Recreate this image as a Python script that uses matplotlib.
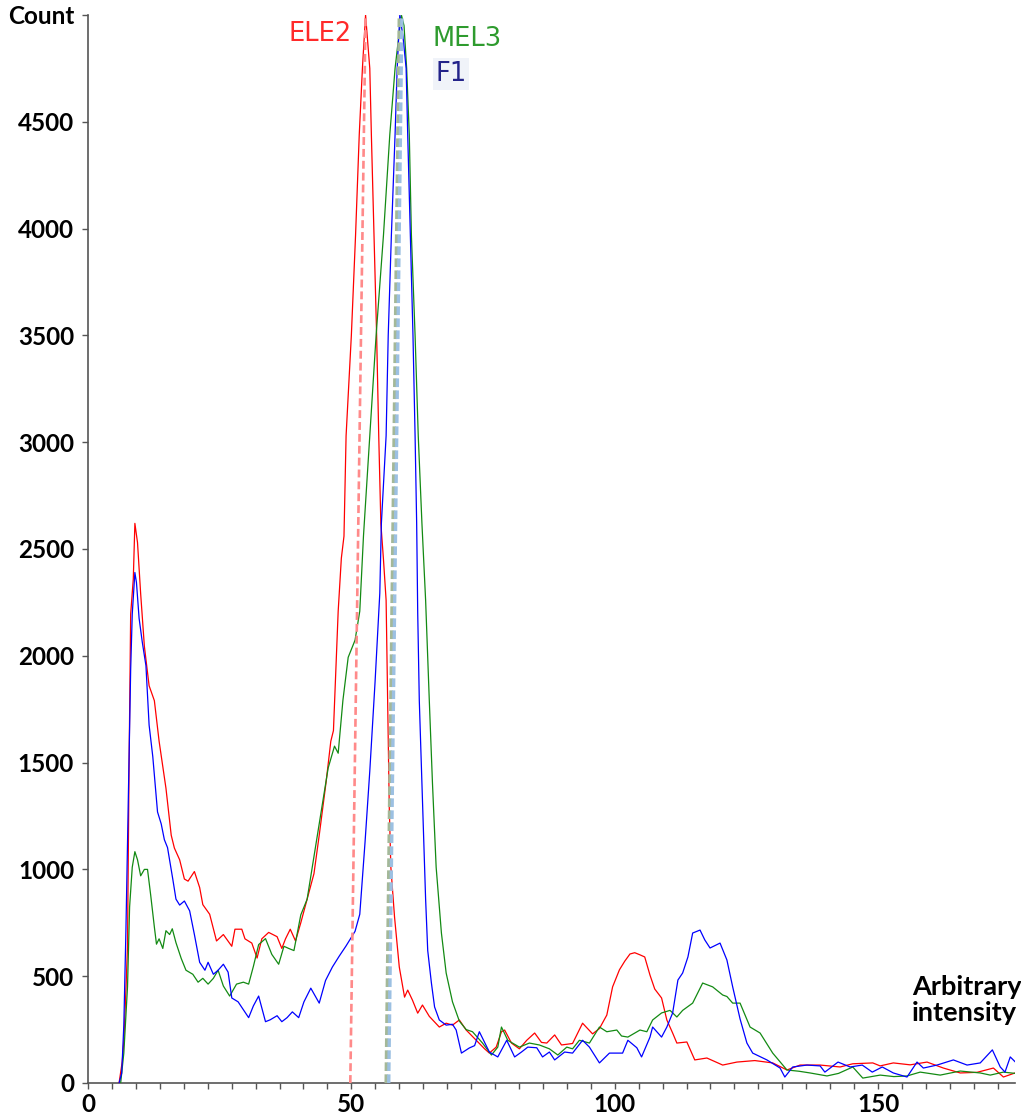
import numpy as np
import matplotlib
matplotlib.use("Agg")
import matplotlib.pyplot as plt

# ---------------------------------------------------------------------------
# Data (x = arbitrary intensity, y = count)
# ---------------------------------------------------------------------------

ele2_x = [5.9, 6.5, 6.8, 7.2, 7.5, 7.8, 8.1, 8.6, 8.9, 9.4, 10.0, 10.7, 11.6, 12.6, 13.5,
          14.8, 15.8, 16.4, 17.4, 18.3, 19.0, 20.2, 21.2, 21.8, 23.1, 24.4, 25.7, 27.3,
          27.9, 29.2, 29.8, 31.1, 32.1, 33.0, 34.3, 35.9, 36.8, 37.5, 38.4, 39.4, 40.4,
          41.6, 42.9, 43.9, 45.2, 46.1, 46.6, 47.5, 48.1, 48.6, 49.0, 50.0, 50.8, 51.5,
          52.1, 52.7, 53.5, 53.8, 54.3, 54.8, 55.2, 55.6, 56.1, 56.6, 56.9, 57.2, 57.5,
          58.2, 59.1, 60.1, 60.7, 61.6, 62.6, 63.5, 64.8, 66.7, 68.0, 69.2, 70.5, 71.8,
          73.7, 75.3, 76.2, 77.5, 78.5, 79.1, 80.4, 81.9, 83.3, 84.8, 86.1, 87.1, 88.6,
          89.9, 92.0, 93.9, 95.8, 97.1, 98.5, 99.6, 100.9, 101.9, 102.9, 103.8, 104.8,
          105.7, 106.7, 107.6, 108.9, 109.9, 111.0, 111.8, 113.7, 115.2, 117.5, 120.5,
          123.2, 126.6, 130.0, 132.7, 135.2, 139.0, 142.8, 145.2, 149.0, 150.4, 152.9,
          156.1, 159.3, 162.4, 165.6, 168.8, 171.9, 173.8, 176.0]
ele2_y = [0, 100, 194, 435, 640, 1490, 2195, 2360, 2620, 2530, 2290, 2045, 1860, 1790, 1600,
          1380, 1160, 1100, 1045, 955, 945, 990, 915, 835, 790, 665, 695, 640,
          720, 720, 675, 655, 585, 675, 705, 685, 630, 675, 720, 665, 750,
          860, 980, 1160, 1408, 1600, 1650, 2209, 2457, 2560, 3030, 3500, 3970, 4440,
          4750, 5000, 4750, 4440, 3970, 3500, 3030, 2620, 2450, 2260, 1790, 1290, 1010,
          777, 543, 402, 435, 388, 327, 365, 312, 262, 280, 271, 295, 248,
          200, 160, 140, 168, 240, 248, 187, 160, 200, 234, 190, 187, 225,
          178, 185, 280, 230, 255, 318, 450, 530, 570, 604, 610, 600,
          590, 505, 440, 398, 295, 234, 187, 192, 108, 117, 84,
          98, 105, 94, 61, 84, 84, 75, 90, 94, 80, 94,
          85, 98, 70, 47, 50, 70, 28, 47]

mel3_x = [6.2, 6.8, 7.5, 7.9, 8.4, 8.9, 9.4, 10.0, 10.7, 11.3, 11.9, 12.6, 13.0, 13.5, 14.2,
          14.8, 15.5, 16.0, 16.7, 17.7, 18.6, 19.9, 20.9, 21.8, 22.8, 23.8, 24.7, 25.7,
          26.9, 28.2, 29.5, 30.5, 31.4, 32.4, 33.7, 34.9, 36.2, 37.2, 38.1, 39.1, 40.4,
          41.6, 43.0, 44.3, 45.6, 46.8, 47.5, 48.4, 49.4, 50.7, 51.6, 52.3, 53.5, 54.7,
          56.1, 57.3, 58.3, 59.0, 59.5, 60.0, 60.5, 61.0, 61.4, 62.1, 62.7, 63.4, 64.1,
          64.8, 65.4, 66.1, 67.1, 68.0, 69.2, 70.5, 71.8, 73.0, 74.9, 76.6, 77.8, 78.5,
          79.7, 81.9, 83.8, 85.7, 87.6, 89.2, 90.9, 92.0, 93.3, 95.2, 97.1, 98.5, 100.4,
          101.3, 102.5, 104.8, 106.1, 107.2, 108.9, 110.5, 111.8, 112.9, 114.8, 116.7,
          118.6, 120.5, 121.3, 122.4, 123.8, 125.7, 127.6, 130.0, 132.7, 135.0, 137.1,
          140.3, 142.5, 145.2, 147.1, 150.4, 153.0, 155.5, 158.0, 161.8, 165.6, 169.4,
          171.3, 173.8, 176.0]
mel3_y = [0, 140, 450, 825, 1010, 1083, 1045, 970, 1000, 1000, 880, 730, 650, 675, 630,
          713, 695, 722, 657, 583, 528, 509, 472, 490, 463, 490, 528, 454,
          407, 463, 472, 463, 546, 648, 676, 602, 556, 640, 630, 620, 787,
          860, 1076, 1278, 1475, 1577, 1544, 1792, 1993, 2073, 2209, 2560, 3030, 3500,
          3970, 4440, 4750, 4900, 5000, 4950, 4750, 4440, 3970, 3500, 3030, 2620, 2260,
          1790, 1404, 1010, 702, 515, 380, 290, 250, 240, 187, 131, 168, 262,
          200, 168, 187, 178, 160, 131, 168, 160, 200, 187, 262, 240, 248,
          220, 215, 248, 240, 295, 328, 340, 309, 340, 374, 468,
          450, 412, 405, 374, 374, 262, 234, 140, 61, 55, 47,
          33, 45, 75, 23, 37, 30, 33, 51, 37, 56, 47,
          37, 51, 45]

f1_x = [5.9, 6.4, 6.8, 7.2, 7.5, 7.8, 8.1, 8.4, 8.9, 9.2, 9.7, 10.3, 11.0, 11.6, 12.3,
        13.2, 13.9, 14.5, 15.1, 16.1, 16.7, 17.4, 18.3, 19.3, 20.2, 21.2, 22.2, 22.8,
        23.8, 24.7, 25.7, 26.6, 27.3, 28.5, 29.5, 30.5, 31.4, 32.4, 33.7, 34.6, 35.9,
        36.8, 37.8, 38.8, 40.0, 41.0, 42.3, 43.9, 45.1, 46.4, 47.7, 49.0, 50.7, 51.6,
        52.6, 53.5, 54.5, 55.4, 55.7, 56.6, 57.0, 57.6, 58.3, 58.7, 59.2, 59.8, 60.4,
        60.7, 61.2, 61.7, 62.1, 62.4, 62.6, 62.9, 63.5, 64.1, 64.5, 65.2, 65.8, 66.7,
        68.0, 69.2, 69.9, 70.9, 72.4, 73.4, 74.3, 76.2, 77.8, 79.5, 81.0, 82.3, 83.5,
        85.2, 86.3, 87.6, 88.6, 90.5, 92.0, 93.9, 95.2, 97.1, 99.0, 100.4, 101.5, 102.5,
        104.2, 105.1, 106.7, 107.2, 108.9, 109.9, 111.0, 112.0, 112.9, 113.9, 114.8,
        116.2, 117.1, 118.1, 120.0, 121.3, 122.4, 123.8, 125.1, 126.2, 128.9, 131.4,
        132.3, 133.8, 136.5, 139.0, 139.9, 142.4, 144.7, 147.0, 148.9, 150.8, 152.9,
        155.5, 157.4, 158.6, 161.2, 164.3, 166.9, 169.4, 171.7, 173.2, 174.1, 175.1, 176.0]
f1_y = [0, 46, 270, 713, 1120, 1546, 1935, 2195, 2390, 2343, 2176, 2065, 1954, 1676, 1528,
        1269, 1213, 1139, 1102, 954, 861, 833, 852, 806, 695, 565, 528, 565,
        509, 528, 556, 519, 398, 380, 343, 306, 361, 407, 287, 296, 315,
        287, 306, 333, 306, 380, 444, 374, 480, 543, 594, 642, 710, 790,
        1128, 1460, 1877, 2293, 2620, 3030, 3500, 3970, 4440, 4750, 5000, 4900, 4750,
        4440, 3970, 3500, 3030, 2620, 2200, 1790, 1320, 860, 620, 468, 356, 295,
        271, 275, 248, 140, 164, 175, 240, 145, 122, 200, 122, 145, 168,
        165, 122, 145, 108, 145, 140, 200, 168, 94, 140, 140, 140, 200,
        165, 122, 215, 262, 215, 262, 328, 482, 515, 590, 702,
        716, 670, 632, 655, 576, 450, 300, 187, 140, 108, 70,
        28, 75, 84, 80, 51, 98, 75, 84, 51, 75, 47,
        28, 98, 70, 84, 108, 84, 94, 155, 75, 51, 122, 100]

# dashed peak markers: (x at count 0, x at top of axis)
ele2_mark_x = [49.8, 52.7]
mel3_mark_x = [56.6, 59.1]
f1_mark_x = [57.1, 59.6]
mark_y = [0, 5000]

y_ticks = np.arange(0, 5001, 500)
y_tick_labels = [str(v) for v in y_ticks[:-1]] + ["Count"]
x_tick_step = 50 / 11          # 11 small ticks between labelled values
x_label_every = 11

# ---------------------------------------------------------------------------
# Figure
# ---------------------------------------------------------------------------
W, H = 1021, 1117
fig = plt.figure(figsize=(W / 100, H / 100), dpi=100)
ax = fig.add_axes([88 / W, 34 / H, (1015 - 88) / W, (1083 - 15) / H])

ax.plot(ele2_x, ele2_y, color="#ff0000", lw=0.9, zorder=3)
ax.plot(mel3_x, mel3_y, color="#138a13", lw=0.9, zorder=3)
ax.plot(f1_x, f1_y, color="#0000ff", lw=0.9, zorder=4)

ax.plot(ele2_mark_x, mark_y, color="#ff8a8a", lw=1.9, dashes=(3, 1.5), zorder=5)
ax.plot(mel3_mark_x, mark_y, color="#a4b898", lw=2.4, dashes=(2.6, 1.0), zorder=5)
ax.plot(f1_mark_x, mark_y, color="#9cc0e2", lw=2.4, dashes=(2.6, 1.0), zorder=5)

ax.set_xlim(0, 176)
ax.set_ylim(0, 5000)

for s in ["top", "right"]:
    ax.spines[s].set_visible(False)
for s in ["left", "bottom"]:
    ax.spines[s].set_color("#555555")
    ax.spines[s].set_linewidth(1.2)

label_font = dict(family=["Lato", "DejaVu Sans"], fontweight="bold", fontsize=17.5)

ax.set_yticks(y_ticks)
ax.set_yticklabels(y_tick_labels, **label_font)
x_ticks = np.arange(0, 176.01, x_tick_step)
x_labels = [str(int(round(v))) if i % x_label_every == 0 else "" for i, v in enumerate(x_ticks)]
ax.set_xticks(x_ticks)
ax.set_xticklabels(x_labels, **label_font)
ax.tick_params(axis="y", direction="out", length=4, width=1, color="#555555", pad=6)
ax.tick_params(axis="x", direction="out", length=4, width=1, color="#555555", pad=3)


def px(x, y):
    return x / W, 1 - y / H


fig.text(*px(912, 1000), "Arbitrary\nintensity", ha="left", va="center",
         linespacing=1.1, family=["Lato", "DejaVu Sans"], fontweight="bold", fontsize=19.5)

legend_font = dict(family="DejaVu Sans", fontsize=18.5)
fig.text(*px(320, 34), "ELE2", color="#ff2a2a", ha="center", va="center", **legend_font)
fig.text(*px(467, 39), "MEL3", color="#2e9b2e", ha="center", va="center", **legend_font)
fig.text(*px(451, 74), "F1", color="#23238a", ha="center", va="center",
         bbox=dict(facecolor="#f0f3f9", edgecolor="none", pad=2), **legend_font)

fig.savefig("out.png", dpi=100)
